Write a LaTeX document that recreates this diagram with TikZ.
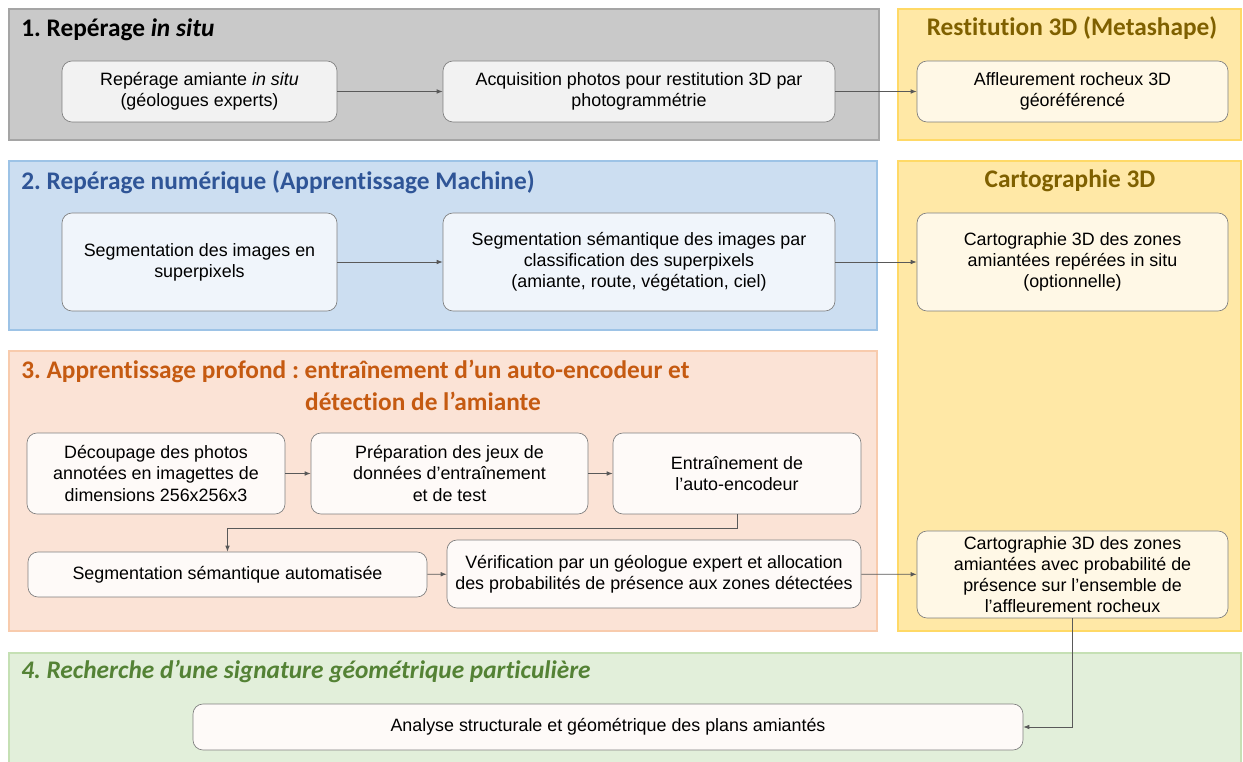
\documentclass[tikz,border=0pt]{standalone}
\usepackage{fontspec}
\setmainfont{Liberation Sans}
\newfontfamily\titlefont[Ligatures=NoCommon]{Carlito}
\usetikzlibrary{arrows.meta}
\frenchspacing
\definecolor{gpfill}{HTML}{C9C9C9}
\definecolor{gpline}{HTML}{A5A5A5}
\definecolor{ypfill}{HTML}{FFE8A6}
\definecolor{ypline}{HTML}{FFD966}
\definecolor{ytext}{HTML}{7F6000}
\definecolor{bpfill}{HTML}{CCDEF1}
\definecolor{bpline}{HTML}{9DC3E6}
\definecolor{btext}{HTML}{2F5597}
\definecolor{opfill}{HTML}{FBE3D6}
\definecolor{opline}{HTML}{F8CBAD}
\definecolor{otext}{HTML}{C55A11}
\definecolor{vpfill}{HTML}{E2EFDA}
\definecolor{vpline}{HTML}{C5E0B4}
\definecolor{vtext}{HTML}{548235}
\definecolor{boxline}{HTML}{7F7F7F}
\definecolor{arrowc}{HTML}{595959}
\definecolor{gbox}{HTML}{F2F2F2}
\definecolor{bbox}{HTML}{F0F5FB}
\definecolor{ybox}{HTML}{FFF8E6}
\definecolor{wbox}{HTML}{FEFAF8}
\begin{document}
\begin{tikzpicture}[x=0.75pt,y=-0.75pt,
  panel/.style={line width=2.2pt},
  box/.style={draw=boxline,line width=0.5pt,rounded corners=7.5pt,align=center,
    font=\frenchspacing\fontsize{13.4}{15.8}\selectfont,inner sep=2pt},
  ptitle/.style={font=\frenchspacing\titlefont\bfseries\fontsize{19}{23}\selectfont,inner sep=0pt},
  conn/.style={draw=arrowc,line width=0.6pt,-{Latex[length=4.5pt,width=3.5pt]}}]
\useasboundingbox (0,0) rectangle (1243,762);
\newcommand{\bx}[7]{\node[box,fill=#7,minimum width={(#4-#2)*0.75pt},minimum height={(#5-#3)*0.75pt}] (#1) at ({(#2+#4)/2},{(#3+#5)/2+1}) {#6};}
% panels
\draw[panel,draw=gpline,fill=gpfill] (9,9) rectangle (879,140);
\draw[panel,draw=ypline,fill=ypfill] (898,9) rectangle (1241,140);
\draw[panel,draw=bpline,fill=bpfill] (9,161) rectangle (877,330);
\draw[panel,draw=ypline,fill=ypfill] (898,161) rectangle (1241,631);
\draw[panel,draw=opline,fill=opfill] (9,351) rectangle (877,631);
\draw[panel,draw=vpline,fill=vpfill] (9,653) rectangle (1241,775);
% titles
\node[ptitle,anchor=west] (t1) at (21,30) {1. Repérage \textit{in situ}};
\node[ptitle,text=ytext] (ty1) at (1072,28) {Restitution 3D (Metashape)};
\node[ptitle,text=btext,anchor=west] (t2) at (21,182) {2. Repérage numérique (Apprentissage Machine)};
\node[ptitle,text=ytext] (ty2) at (1070,181) {Cartographie 3D};
\node[ptitle,text=otext,anchor=west] (t3a) at (21,371) {3. Apprentissage profond : entraînement d’un auto-encodeur et};
\node[ptitle,text=otext] (t3b) at (423,401) {détection de l’amiante};
\node[ptitle,text=vtext,anchor=west] (t4) at (21,672) {\itshape 4. Recherche d’une signature géométrique particulière};
% boxes
\bx{r1}{62}{60}{337}{121}{Repérage amiante \textit{in situ}\\(géologues experts)}{gbox}
\bx{r2}{443}{60}{835}{121}{Acquisition photos pour restitution 3D par\\photogrammétrie}{gbox}
\bx{y1}{917}{60}{1228}{121}{Affleurement rocheux 3D\\géoréférencé}{ybox}
\bx{s1}{62}{212}{337}{310}{Segmentation des images en\\superpixels}{bbox}
\bx{s2}{443}{212}{835}{310}{Segmentation sémantique des images par\\classification des superpixels\\(amiante, route, végétation, ciel)}{bbox}
\bx{k1}{917}{212}{1228}{310}{Cartographie 3D des zones\\amiantées repérées in situ\\(optionnelle)}{ybox}
\bx{a1}{27}{432}{285}{513}{Découpage des photos\\annotées en imagettes de\\dimensions 256x256x3}{wbox}
\bx{a2}{311}{432}{588}{513}{Préparation des jeux de\\données d’entraînement\\et de test}{wbox}
\bx{a3}{613}{432}{861}{513}{Entraînement de\\l’auto-encodeur}{wbox}
\bx{a4}{28}{551}{427}{596}{Segmentation sémantique automatisée}{wbox}
\bx{a5}{447}{539}{861}{607}{Vérification par un géologue expert et allocation\\des probabilités de présence aux zones détectées}{wbox}
\bx{k2}{917}{530}{1228}{617}{Cartographie 3D des zones\\amiantées avec probabilité de\\présence sur l’ensemble de\\l’affleurement rocheux}{ybox}
\bx{g1}{193}{703}{1023}{749}{Analyse structurale et géométrique des plans amiantés}{wbox}
% connectors
\draw[conn] (r1) -- (r2);
\draw[conn] (r2) -- (y1);
\draw[conn] (s1) -- (s2);
\draw[conn] (s2) -- (k1);
\draw[conn] (a1) -- (a2);
\draw[conn] (a2) -- (a3);
\draw[conn] (a3.south) -- ++(0,14) -| (a4.north);
\draw[conn] (a4) -- (a5);
\draw[conn] (a5) -- (k2);
\draw[conn] (k2.south) |- (g1.east);
\end{tikzpicture}
\end{document}
